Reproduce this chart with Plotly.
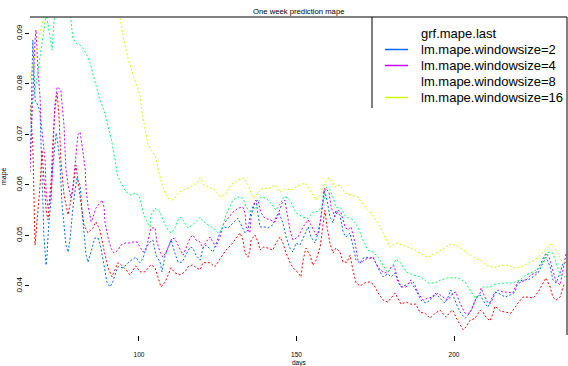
import plotly.graph_objects as go

# chart text
title_text = "One week prediction mape"
x_title = "days"
y_title = "mape"

series_names = ["grf.mape.last", "lm.mape.windowsize=2", "lm.mape.windowsize=4",
                "lm.mape.windowsize=8", "lm.mape.windowsize=16"]
series_colors = ["#FF0000", "#0066FF", "#CC00FF", "#00FF66", "#CCFF00"]
legend_key_shown = [False, True, True, False, True]

x_ticks = [100, 150, 200]
y_ticks = [0.04, 0.05, 0.06, 0.07, 0.08, 0.09]
y_tick_text = ["0.04", "0.05", "0.06", "0.07", "0.08", "0.09"]

# grf.mape.last
grf_days = [65.4, 66.3, 67.0, 67.9, 68.6, 69.2, 69.8, 70.5, 71.1, 72.1, 72.7, 73.3, 74.0, 74.6, 75.2,
            76.2, 77.5, 78.7, 80.0, 81.3, 82.5, 83.8, 85.4, 86.3, 87.6, 88.9, 90.2, 91.4, 92.7, 93.3,
            94.3, 95.9, 97.1, 98.1, 99.0, 100.3, 101.9, 103.8, 105.1, 106.0, 107.0, 108.3, 109.2, 110.2,
            111.4, 113.0, 114.6, 115.6, 117.1, 118.1, 119.4, 120.3, 121.6, 122.5, 124.1, 126.0, 127.6,
            129.2, 130.8, 132.1, 133.0, 133.7, 134.6, 135.2, 135.6, 136.8, 137.8, 138.4, 139.4, 141.0,
            142.5, 143.5, 144.8, 145.7, 146.7, 147.9, 148.9, 150.5, 151.4, 152.1, 153.0, 154.3, 155.2,
            156.2, 157.5, 158.1, 159.0, 159.7, 160.6, 161.6, 162.5, 163.8, 164.8, 166.0, 167.0, 167.9,
            168.9, 170.2, 171.7, 173.3, 174.6, 175.9, 177.5, 179.0, 181.3, 183.2, 184.8, 186.3, 187.9,
            189.2, 190.8, 192.4, 194.0, 195.6, 197.5, 198.7, 199.7, 200.6, 201.9, 202.9, 204.1, 205.1,
            206.7, 208.3, 209.2, 210.2, 211.4, 212.4, 213.0, 214.9, 216.5, 218.1, 220.3, 221.9, 223.5,
            225.1, 226.7, 228.3, 229.2, 230.5, 231.4, 232.4, 233.7, 234.6, 235.2]
grf_mape = [0.0758, 0.0679, 0.0481, 0.0541, 0.0600, 0.0669, 0.0620, 0.0550, 0.0531, 0.0610, 0.0689,
            0.0748, 0.0782, 0.0738, 0.0649, 0.0580, 0.0541, 0.0580, 0.0639, 0.0580, 0.0521, 0.0505,
            0.0515, 0.0527, 0.0511, 0.0471, 0.0436, 0.0418, 0.0436, 0.0446, 0.0442, 0.0432, 0.0422,
            0.0432, 0.0440, 0.0428, 0.0428, 0.0442, 0.0436, 0.0418, 0.0398, 0.0408, 0.0422, 0.0436,
            0.0426, 0.0422, 0.0428, 0.0438, 0.0442, 0.0436, 0.0432, 0.0446, 0.0446, 0.0446, 0.0438,
            0.0457, 0.0471, 0.0481, 0.0495, 0.0505, 0.0491, 0.0465, 0.0457, 0.0471, 0.0491, 0.0501,
            0.0487, 0.0471, 0.0477, 0.0475, 0.0471, 0.0485, 0.0497, 0.0485, 0.0465, 0.0447, 0.0436,
            0.0426, 0.0418, 0.0451, 0.0475, 0.0461, 0.0441, 0.0451, 0.0477, 0.0511, 0.0550, 0.0517,
            0.0485, 0.0465, 0.0475, 0.0467, 0.0447, 0.0447, 0.0461, 0.0432, 0.0406, 0.0400, 0.0406,
            0.0408, 0.0402, 0.0386, 0.0372, 0.0368, 0.0386, 0.0364, 0.0368, 0.0364, 0.0364, 0.0348,
            0.0346, 0.0336, 0.0346, 0.0352, 0.0338, 0.0348, 0.0352, 0.0338, 0.0323, 0.0313, 0.0321,
            0.0332, 0.0336, 0.0352, 0.0348, 0.0338, 0.0331, 0.0346, 0.0360, 0.0350, 0.0348, 0.0346,
            0.0366, 0.0378, 0.0378, 0.0376, 0.0388, 0.0408, 0.0416, 0.0398, 0.0378, 0.0372, 0.0378,
            0.0398, 0.0406]

# lm.mape.windowsize=2
ws2_days = [65.4, 65.7, 66.0, 66.3, 67.0, 67.9, 68.6, 68.9, 69.2, 69.5, 69.8, 70.5, 70.8, 71.4, 72.1,
            72.4, 73.0, 73.7, 74.3, 74.9, 75.6, 76.2, 76.8, 77.5, 78.1, 78.7, 79.4, 80.3, 81.3, 81.9,
            82.5, 83.2, 83.8, 84.8, 86.0, 87.0, 87.9, 88.9, 89.8, 90.8, 91.7, 92.7, 93.3, 94.9, 97.5,
            99.0, 100.3, 101.3, 102.2, 103.5, 104.4, 105.4, 106.7, 107.3, 108.3, 109.2, 110.2, 111.4,
            112.4, 113.7, 114.6, 116.2, 117.1, 118.1, 119.4, 120.3, 121.3, 121.9, 123.5, 125.7, 126.7,
            128.3, 129.8, 131.4, 132.4, 133.7, 134.6, 135.6, 137.1, 137.8, 138.4, 139.7, 141.0, 142.5,
            143.5, 144.4, 145.7, 146.7, 147.9, 148.9, 149.8, 151.1, 152.7, 153.7, 154.6, 155.9, 156.8,
            157.8, 158.7, 159.7, 160.6, 161.6, 162.5, 163.8, 164.8, 165.7, 167.0, 167.9, 168.9, 170.2,
            171.1, 172.1, 173.3, 174.3, 175.2, 176.5, 177.5, 179.0, 180.0, 181.3, 182.2, 183.2, 184.8,
            186.3, 187.9, 189.5, 191.1, 192.4, 194.0, 195.6, 197.1, 198.1, 199.0, 200.3, 201.3, 202.2,
            203.5, 204.4, 206.0, 207.0, 208.3, 209.8, 210.8, 211.7, 213.0, 214.6, 216.2, 217.8, 219.4,
            220.3, 221.9, 223.5, 225.1, 226.7, 228.3, 229.2, 230.5, 231.4, 232.4, 233.7, 234.6, 235.6]
ws2_mape = [0.0649, 0.0699, 0.0808, 0.0887, 0.0768, 0.0758, 0.0744, 0.0689, 0.0620, 0.0550, 0.0501,
            0.0441, 0.0461, 0.0527, 0.0570, 0.0620, 0.0653, 0.0703, 0.0679, 0.0645, 0.0560, 0.0521,
            0.0481, 0.0467, 0.0491, 0.0534, 0.0576, 0.0614, 0.0600, 0.0550, 0.0501, 0.0461, 0.0447,
            0.0471, 0.0495, 0.0495, 0.0475, 0.0441, 0.0408, 0.0398, 0.0408, 0.0428, 0.0438, 0.0436,
            0.0451, 0.0457, 0.0446, 0.0455, 0.0475, 0.0487, 0.0491, 0.0461, 0.0447, 0.0428, 0.0461,
            0.0475, 0.0491, 0.0465, 0.0447, 0.0447, 0.0457, 0.0477, 0.0475, 0.0461, 0.0451, 0.0475,
            0.0481, 0.0477, 0.0467, 0.0505, 0.0517, 0.0515, 0.0525, 0.0534, 0.0521, 0.0505, 0.0511,
            0.0550, 0.0570, 0.0544, 0.0517, 0.0517, 0.0515, 0.0521, 0.0537, 0.0545, 0.0525, 0.0497,
            0.0475, 0.0467, 0.0485, 0.0481, 0.0505, 0.0517, 0.0497, 0.0485, 0.0505, 0.0537, 0.0590,
            0.0570, 0.0537, 0.0525, 0.0550, 0.0540, 0.0507, 0.0497, 0.0505, 0.0477, 0.0451, 0.0445,
            0.0455, 0.0457, 0.0455, 0.0457, 0.0445, 0.0428, 0.0418, 0.0424, 0.0418, 0.0426, 0.0408,
            0.0398, 0.0402, 0.0408, 0.0392, 0.0372, 0.0366, 0.0372, 0.0386, 0.0376, 0.0366, 0.0378,
            0.0392, 0.0372, 0.0356, 0.0346, 0.0336, 0.0342, 0.0358, 0.0376, 0.0382, 0.0366, 0.0358,
            0.0372, 0.0388, 0.0384, 0.0378, 0.0382, 0.0388, 0.0408, 0.0412, 0.0412, 0.0418, 0.0426,
            0.0445, 0.0457, 0.0438, 0.0412, 0.0406, 0.0426, 0.0445, 0.0447]

# lm.mape.windowsize=4
ws4_days = [65.4, 65.7, 66.0, 66.3, 67.0, 67.3, 67.9, 68.6, 68.9, 69.5, 70.2, 70.5, 71.1, 71.7, 72.4,
            73.0, 73.3, 74.0, 75.2, 75.6, 76.2, 76.5, 76.8, 77.5, 78.4, 79.0, 79.7, 80.0, 80.6, 81.3,
            81.6, 82.2, 82.9, 83.2, 83.8, 84.8, 85.4, 86.3, 87.6, 88.3, 88.9, 89.2, 90.2, 91.1, 92.1,
            93.3, 94.3, 95.6, 96.8, 98.1, 99.4, 100.3, 101.3, 102.2, 103.2, 103.8, 105.1, 105.7, 106.7,
            107.6, 108.6, 109.8, 110.5, 111.4, 112.4, 114.0, 114.9, 116.2, 117.1, 118.1, 119.4, 120.3,
            121.3, 122.5, 123.5, 124.4, 125.7, 126.7, 128.3, 129.8, 131.4, 133.0, 133.7, 134.0, 135.2,
            135.6, 136.8, 137.8, 138.7, 140.0, 141.6, 143.2, 144.1, 145.4, 146.3, 147.0, 147.9, 148.9,
            150.5, 152.1, 153.7, 154.6, 156.2, 157.1, 158.1, 159.0, 160.3, 161.0, 162.2, 163.2, 164.1,
            165.4, 166.3, 167.3, 168.6, 169.5, 170.5, 171.7, 173.3, 174.3, 175.2, 176.5, 177.8, 179.0,
            180.0, 181.0, 181.9, 183.2, 184.8, 186.3, 187.3, 188.6, 190.2, 191.7, 193.3, 194.9, 196.5,
            198.1, 199.7, 200.6, 201.9, 203.5, 205.1, 206.7, 208.3, 208.6, 209.8, 210.8, 211.7, 213.0,
            214.0, 215.6, 217.1, 218.7, 219.7, 221.3, 222.9, 224.4, 226.0, 227.6, 229.2, 230.2, 231.4,
            232.4, 233.7, 234.6, 235.6]
ws4_mape = [0.0626, 0.0689, 0.0728, 0.0778, 0.0887, 0.0907, 0.0828, 0.0774, 0.0724, 0.0685, 0.0649,
            0.0590, 0.0554, 0.0564, 0.0606, 0.0714, 0.0758, 0.0794, 0.0788, 0.0758, 0.0718, 0.0673,
            0.0630, 0.0600, 0.0574, 0.0594, 0.0639, 0.0669, 0.0699, 0.0705, 0.0693, 0.0669, 0.0634,
            0.0590, 0.0560, 0.0527, 0.0536, 0.0554, 0.0566, 0.0570, 0.0556, 0.0527, 0.0495, 0.0475,
            0.0465, 0.0471, 0.0481, 0.0485, 0.0485, 0.0487, 0.0487, 0.0477, 0.0467, 0.0471, 0.0495,
            0.0515, 0.0515, 0.0487, 0.0467, 0.0457, 0.0467, 0.0487, 0.0495, 0.0493, 0.0481, 0.0461,
            0.0475, 0.0495, 0.0501, 0.0491, 0.0487, 0.0475, 0.0487, 0.0497, 0.0487, 0.0477, 0.0497,
            0.0521, 0.0534, 0.0546, 0.0554, 0.0556, 0.0544, 0.0517, 0.0505, 0.0537, 0.0566, 0.0570,
            0.0545, 0.0534, 0.0531, 0.0527, 0.0540, 0.0564, 0.0570, 0.0545, 0.0511, 0.0491, 0.0497,
            0.0517, 0.0531, 0.0521, 0.0501, 0.0505, 0.0550, 0.0594, 0.0586, 0.0556, 0.0537, 0.0550,
            0.0546, 0.0517, 0.0511, 0.0517, 0.0485, 0.0451, 0.0445, 0.0453, 0.0455, 0.0457, 0.0445,
            0.0432, 0.0426, 0.0426, 0.0438, 0.0440, 0.0418, 0.0398, 0.0398, 0.0412, 0.0406, 0.0386,
            0.0372, 0.0376, 0.0378, 0.0386, 0.0378, 0.0372, 0.0386, 0.0388, 0.0366, 0.0346, 0.0346,
            0.0372, 0.0386, 0.0396, 0.0378, 0.0366, 0.0366, 0.0386, 0.0392, 0.0388, 0.0388, 0.0386,
            0.0402, 0.0408, 0.0412, 0.0422, 0.0426, 0.0445, 0.0465, 0.0457, 0.0432, 0.0408, 0.0402,
            0.0432, 0.0465]

# lm.mape.windowsize=8
ws8_days = [65.4, 67.0, 67.9, 68.9, 69.5, 70.5, 71.1, 71.7, 72.4, 72.7, 73.3, 74.3, 75.6, 76.8, 77.8,
            78.4, 79.0, 80.0, 81.3, 82.2, 83.5, 84.4, 85.4, 86.7, 87.6, 88.9, 90.2, 91.4, 92.4, 93.3,
            94.3, 95.9, 97.5, 99.0, 100.3, 101.3, 102.2, 103.5, 103.8, 105.1, 106.7, 107.6, 109.2,
            110.2, 111.4, 112.4, 113.3, 114.6, 115.6, 117.1, 119.4, 120.3, 121.9, 123.5, 125.1, 126.3,
            127.3, 128.3, 129.8, 131.4, 133.0, 134.0, 135.6, 137.1, 138.7, 140.3, 141.9, 143.5, 144.8,
            146.3, 147.9, 148.9, 149.8, 151.1, 152.1, 153.7, 155.2, 156.8, 158.4, 159.4, 160.6, 161.6,
            162.5, 164.1, 165.7, 167.9, 169.5, 171.1, 172.7, 174.3, 175.9, 177.5, 179.0, 180.6, 181.6,
            183.2, 184.8, 187.0, 189.5, 191.7, 194.0, 195.9, 198.1, 201.3, 203.5, 205.1, 206.7, 208.3,
            209.2, 211.4, 213.3, 216.2, 218.7, 220.9, 222.9, 225.1, 227.3, 228.9, 229.8, 231.4, 232.4,
            233.7, 235.2]
ws8_mape = [0.0738, 0.0788, 0.0824, 0.0867, 0.0903, 0.0937, 0.0919, 0.0897, 0.0867, 0.0897, 0.0943,
            0.0956, 0.0966, 0.0956, 0.0943, 0.0927, 0.0891, 0.0881, 0.0877, 0.0871, 0.0857, 0.0843,
            0.0818, 0.0788, 0.0768, 0.0748, 0.0718, 0.0685, 0.0649, 0.0616, 0.0604, 0.0586, 0.0580,
            0.0584, 0.0574, 0.0546, 0.0531, 0.0517, 0.0540, 0.0554, 0.0546, 0.0531, 0.0511, 0.0505,
            0.0515, 0.0531, 0.0536, 0.0525, 0.0515, 0.0521, 0.0536, 0.0529, 0.0521, 0.0515, 0.0505,
            0.0511, 0.0534, 0.0550, 0.0570, 0.0576, 0.0574, 0.0556, 0.0545, 0.0556, 0.0576, 0.0574,
            0.0564, 0.0550, 0.0564, 0.0578, 0.0570, 0.0556, 0.0545, 0.0540, 0.0536, 0.0534, 0.0546,
            0.0548, 0.0560, 0.0596, 0.0590, 0.0576, 0.0556, 0.0554, 0.0537, 0.0531, 0.0517, 0.0491,
            0.0471, 0.0467, 0.0457, 0.0441, 0.0426, 0.0441, 0.0453, 0.0445, 0.0428, 0.0422, 0.0418,
            0.0406, 0.0406, 0.0412, 0.0416, 0.0416, 0.0408, 0.0392, 0.0376, 0.0386, 0.0398, 0.0398,
            0.0404, 0.0406, 0.0406, 0.0412, 0.0422, 0.0428, 0.0436, 0.0457, 0.0467, 0.0465, 0.0445,
            0.0422, 0.0418]

# lm.mape.windowsize=16
ws16_days = [65.4, 66.3, 67.3, 68.6, 69.5, 70.2, 71.7, 74.9, 78.1, 81.3, 84.4, 87.6, 90.2, 92.1, 93.3,
             94.0, 95.2, 96.5, 98.1, 99.4, 100.3, 101.3, 102.9, 103.8, 105.1, 106.0, 107.6, 109.2,
             110.8, 112.4, 114.0, 115.6, 117.1, 118.4, 119.4, 120.6, 121.9, 124.1, 126.0, 127.6, 129.2,
             131.4, 133.3, 134.6, 136.2, 137.8, 138.7, 141.6, 143.2, 144.8, 146.3, 148.3, 150.5, 152.7,
             154.6, 156.2, 157.8, 159.0, 160.3, 162.2, 163.8, 165.4, 167.3, 169.5, 171.7, 173.7, 175.9,
             177.5, 179.0, 179.7, 181.6, 183.8, 186.3, 189.2, 191.7, 194.3, 197.1, 199.0, 201.3, 203.8,
             206.7, 208.3, 210.2, 213.0, 214.9, 217.1, 219.4, 221.3, 223.5, 226.0, 228.3, 229.8, 230.8,
             232.4, 234.0, 235.6]
ws16_mape = [0.0812, 0.0837, 0.0867, 0.0897, 0.0927, 0.0939, 0.0956, 0.0986, 0.1006, 0.1016, 0.1016,
             0.1006, 0.0986, 0.0966, 0.0943, 0.0931, 0.0887, 0.0851, 0.0818, 0.0792, 0.0778, 0.0732,
             0.0679, 0.0669, 0.0659, 0.0634, 0.0594, 0.0574, 0.0570, 0.0584, 0.0590, 0.0594, 0.0600,
             0.0604, 0.0614, 0.0600, 0.0596, 0.0590, 0.0576, 0.0584, 0.0600, 0.0610, 0.0614, 0.0600,
             0.0574, 0.0584, 0.0592, 0.0594, 0.0600, 0.0586, 0.0592, 0.0590, 0.0598, 0.0604, 0.0586,
             0.0570, 0.0584, 0.0604, 0.0614, 0.0596, 0.0600, 0.0584, 0.0580, 0.0576, 0.0556, 0.0544,
             0.0525, 0.0505, 0.0485, 0.0477, 0.0485, 0.0481, 0.0475, 0.0465, 0.0457, 0.0465, 0.0475,
             0.0483, 0.0479, 0.0467, 0.0455, 0.0451, 0.0441, 0.0436, 0.0441, 0.0441, 0.0436, 0.0438,
             0.0445, 0.0453, 0.0467, 0.0477, 0.0483, 0.0471, 0.0451, 0.0445]

all_days = [grf_days, ws2_days, ws4_days, ws8_days, ws16_days]
all_mape = [grf_mape, ws2_mape, ws4_mape, ws8_mape, ws16_mape]

# plot box in pixels (left, right, top, bottom)
L, R, T, B = 30, 567, 17, 335
W, H = 568, 366


def px(x):
    return (x - L) / (R - L)


def py(y):
    return (B - y) / (B - T)


font = "Liberation Sans, Arial, sans-serif"

fig = go.Figure()
for name, color, d, m in zip(series_names, series_colors, all_days, all_mape):
    fig.add_trace(go.Scatter(x=d, y=m, mode="lines", name=name, showlegend=False,
                             line=dict(color=color, width=1, dash="2px,2px")))

shapes = [
    dict(type="line", xref="paper", yref="paper", x0=0, x1=1, y0=1, y1=1, line=dict(color="black", width=1)),
    dict(type="line", xref="paper", yref="paper", x0=1, x1=1, y0=0, y1=1, line=dict(color="black", width=1)),
    dict(type="line", xref="paper", yref="paper", x0=px(372), x1=px(372), y0=py(108), y1=1,
         line=dict(color="black", width=1)),
]

annotations = [
    dict(text=title_text, x=0.5, y=py(11), xref="paper", yref="paper", showarrow=False,
         xanchor="center", yanchor="middle", font=dict(family=font, size=7.7, color="black")),
    dict(text=x_title, x=0.5, y=py(363), xref="paper", yref="paper", showarrow=False,
         xanchor="center", yanchor="middle", font=dict(family=font, size=6.5, color="black")),
    dict(text=y_title, x=px(4), y=0.5, xref="paper", yref="paper", showarrow=False, textangle=-90,
         xanchor="center", yanchor="middle", font=dict(family=font, size=7, color="black")),
]

legend_rows = [33.5, 49.5, 65.5, 81.5, 97.5]
for name, color, shown, row in zip(series_names, series_colors, legend_key_shown, legend_rows):
    annotations.append(dict(text=name, x=px(419), y=py(row), xref="paper", yref="paper", showarrow=False,
                            xanchor="left", yanchor="middle", font=dict(family=font, size=13, color="black")))
    if shown:
        shapes.append(dict(type="line", xref="paper", yref="paper", x0=px(385), x1=px(408),
                           y0=py(row), y1=py(row), line=dict(color=color, width=1.5)))

fig.update_layout(
    width=W, height=H, autosize=False,
    margin=dict(l=L, r=W - R, t=T, b=H - B, pad=0),
    paper_bgcolor="white", plot_bgcolor="white",
    showlegend=False,
    shapes=shapes,
    annotations=annotations,
    font=dict(family=font, color="black"),
    xaxis=dict(range=[65.40, 235.87], tickvals=x_ticks, ticks="outside", ticklen=5, tickwidth=1,
               tickcolor="black", tickfont=dict(size=6.5), showgrid=False, zeroline=False,
               showline=False, ticklabelstandoff=8),
    yaxis=dict(range=[0.03029, 0.09326], tickvals=y_ticks, ticktext=y_tick_text, tickangle=-90,
               ticks="outside", ticklen=4, tickwidth=1, tickcolor="black", tickfont=dict(size=8),
               showgrid=False, zeroline=False, showline=False),
)

# the page body has an 8px default margin; drop it so the figure sits at the window's corner
fig.write_html("out.html", config={"displayModeBar": False},
               post_script="document.body.style.margin='0px';")
